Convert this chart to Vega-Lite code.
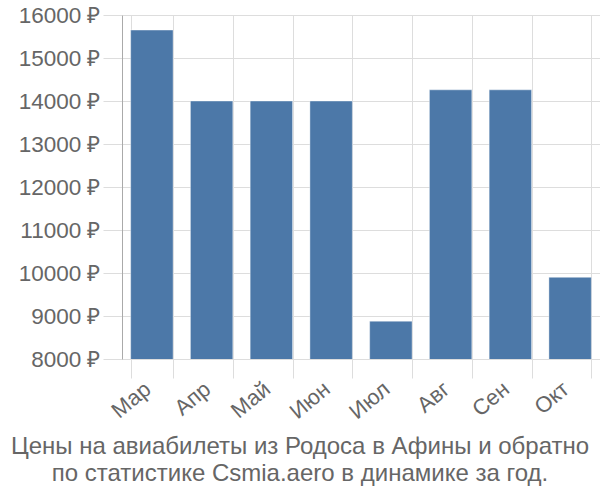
{
  "$schema": "https://vega.github.io/schema/vega-lite/v6.json",
  "width": 478,
  "height": 344,
  "autosize": {"type": "none"},
  "padding": {"left": 122, "top": 15, "right": 0, "bottom": 141},
  "background": "white",
  "data": {"values": [
    {"month": "Мар", "price": 15650},
    {"month": "Апр", "price": 14000},
    {"month": "Май", "price": 14000},
    {"month": "Июн", "price": 14000},
    {"month": "Июл", "price": 8880},
    {"month": "Авг", "price": 14260},
    {"month": "Сен", "price": 14260},
    {"month": "Окт", "price": 9900}
  ]},
  "title": {
    "text": ["Цены на авиабилеты из Родоса в Афины и обратно", "по статистике Csmia.aero в динамике за год."],
    "orient": "bottom",
    "anchor": "middle",
    "frame": "group",
    "dx": -61,
    "offset": 12,
    "font": "Liberation Sans",
    "fontSize": 24,
    "fontWeight": "normal",
    "color": "#666666",
    "lineHeight": 27
  },
  "mark": {"type": "bar", "color": "#4c78a8", "stroke": "#ffffff", "strokeOpacity": 0.4, "clip": true},
  "encoding": {
    "x": {
      "field": "month", "type": "nominal", "sort": null,
      "scale": {"paddingInner": 0.29, "paddingOuter": 0.145},
      "axis": {
        "title": null, "labelAngle": -40, "labelAlign": "right", "labelBaseline": "top",
        "tickBand": "extent", "grid": true, "gridColor": "#dddddd", "tickColor": "#dddddd",
        "tickSize": 19, "domain": false, "labelFont": "Liberation Sans", "labelFontSize": 22,
        "labelColor": "#666666", "labelPadding": 0, "labelOffset": -11
      }
    },
    "y": {
      "field": "price", "type": "quantitative",
      "scale": {"domain": [8000, 16000], "zero": false, "nice": false},
      "axis": {
        "title": null, "values": [8000,9000,10000,11000,12000,13000,14000,15000,16000],
        "labelOverlap": false,
        "labelExpr": "datum.value + ' ₽'", "gridColor": "#dddddd", "tickColor": "#dddddd",
        "tickSize": 19, "domainColor": "#aaaaaa", "labelFont": "Liberation Sans", "labelFontSize": 22.5,
        "labelColor": "#666666", "labelPadding": 3
      }
    }
  },
  "config": {"view": {"stroke": null}}
}
